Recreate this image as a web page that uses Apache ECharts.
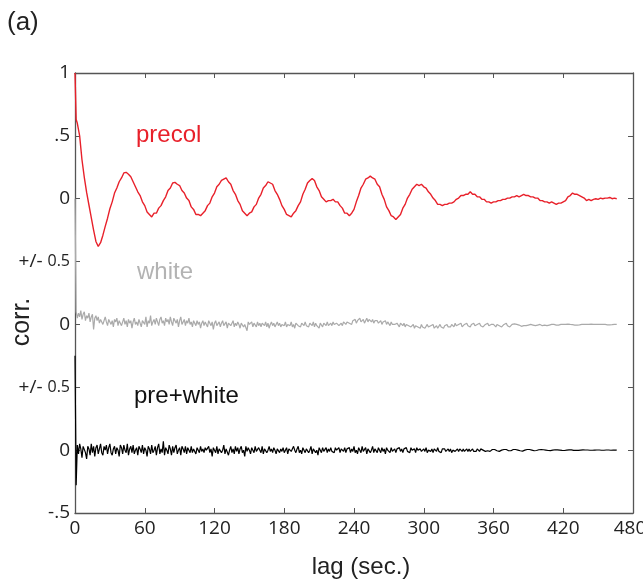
<!DOCTYPE html>
<html>
<head>
<meta charset="utf-8">
<script src="https://cdn.jsdelivr.net/npm/echarts@6/dist/echarts.min.js"></script>
<style>html,body{margin:0;padding:0;background:#fff}#c{width:643px;height:586px}</style>
</head>
<body>
<div id="c"></div>
<script>
// sample lags (sec.) for the smooth "precol" trace
const lagsPrecol = [0,1,2,4,6,8,10,12,14,16,18,20,22,24,26,28,30,32,34,36,38,40,42,44,46,48,50,52,54,56,58,60,62,64,66,68,70,72,74,76,78,80,82,84,86,88,90,92,94,96,98,100,102,104,106,108,110,112,114,116,118,120,122,124,126,128,130,132,134,136,138,140,142,144,146,148,150,152,154,156,158,160,162,164,166,168,170,172,174,176,178,180,182,184,186,188,190,192,194,196,198,200,202,204,206,208,210,212,214,216,218,220,222,224,226,228,230,232,234,236,238,240,242,244,246,248,250,252,254,256,258,260,262,264,266,268,270,272,274,276,278,280,282,284,286,288,290,292,294,296,298,300,302,304,306,308,310,312,314,316,318,320,322,324,326,328,330,332,334,336,338,340,342,344,346,348,350,352,354,356,358,360,362,364,366,368,370,372,374,376,378,380,382,384,386,388,390,392,394,396,398,400,402,404,406,408,410,412,414,416,418,420,422,424,426,428,430,432,434,436,438,440,442,444,446,448,450,452,454,456,458,460,462,464,466];

// sample lags (sec.) for the noisy "white" and "pre+white" traces
const lagsNoise = [0,1,2,3,4,5,6,7,8,9,10,11,12,13,14,15,16,17,18,19,20,21,22,23,24,25,26,27,28,29,30,31,32,33,34,35,36,37,38,39,40,41,42,43,44,45,46,47,48,49,50,51,52,53,54,55,56,57,58,59,60,61,62,63,64,65,66,67,68,69,70,71,72,73,74,75,76,77,78,79,80,81,82,83,84,85,86,87,88,89,90,91,92,93,94,95,96,97,98,99,100,101,102,103,104,105,106,107,108,109,110,111,112,113,114,115,116,117,118,119,120,121,122,123,124,125,126,127,128,129,130,131,132,133,134,135,136,137,138,139,140,141,142,143,144,145,146,147,148,149,150,151,152,153,154,155,156,157,158,159,160,161,162,163,164,165,166,167,168,169,170,171,172,173,174,175,176,177,178,179,180,181,182,183,184,185,186,187,188,189,190,191,192,193,194,195,196,197,198,199,200,201,202,203,204,205,206,207,208,209,210,211,212,213,214,215,216,217,218,219,220,221,222,223,224,225,226,227,228,229,230,231,232,233,234,235,236,237,238,239,240,241,242,243,244,245,246,247,248,249,250,251,252,253,254,255,256,257,258,259,260,261,262,263,264,265,266,267,268,269,270,271,272,273,274,275,276,277,278,279,280,281,282,283,284,285,286,287,288,289,290,291,292,293,294,295,296,297,298,299,300,301,302,303,304,305,306,307,308,309,310,311,312,313,314,315,316,317,318,319,320,321,322,323,324,325,326,327,328,329,330,331,332,333,334,335,336,337,338,339,340,341,342,343,344,345,346,347,348,349,350,351,352,353,354,355,356,357,358,359,360,361,362,363,364,365,366,367,368,369,370,371,372,373,374,375,376,377,378,379,380,381,382,383,384,385,386,387,388,389,390,391,392,393,394,395,396,397,398,399,400,401,402,403,404,405,406,407,408,409,410,411,412,413,414,415,416,417,418,419,420,421,422,423,424,425,426,427,428,429,430,431,432,433,434,435,436,437,438,439,440,441,442,443,444,445,446,447,448,449,450,451,452,453,454,455,456,457,458,459,460,461,462,463,464,465,466];

const precol = [1.0,0.63,0.60,
0.50,0.31,0.17,0.05,-0.05,-0.15,-0.25,-0.34,-0.38,-0.35,
-0.29,-0.22,-0.155,-0.08,-0.025,0.045,0.085,0.135,0.165,0.205,
0.21,0.195,0.175,0.135,0.095,0.055,0.025,-0.025,-0.055,-0.105,
-0.125,-0.145,-0.115,-0.115,-0.075,-0.055,-0.015,0.015,0.065,0.085,
0.125,0.13,0.115,0.105,0.065,0.045,0.005,-0.015,-0.065,-0.085,
-0.125,-0.125,-0.135,-0.115,-0.095,-0.055,-0.035,0.015,0.045,0.095,
0.115,0.145,0.155,0.165,0.135,0.115,0.065,0.035,-0.015,-0.045,
-0.095,-0.115,-0.135,-0.115,-0.105,-0.065,-0.045,0.005,0.035,0.085,
0.105,0.135,0.125,0.115,0.065,0.035,-0.005,-0.055,-0.085,-0.125,
-0.135,-0.145,-0.115,-0.095,-0.055,-0.025,0.035,0.075,0.125,0.145,
0.16,0.145,0.095,0.065,0.015,-0.005,-0.025,-0.015,-0.015,-0.005,
-0.025,-0.025,-0.055,-0.075,-0.115,-0.115,-0.135,-0.115,-0.085,-0.025,
0.025,0.085,0.115,0.155,0.165,0.18,0.165,0.155,0.115,0.095,
0.035,-0.005,-0.065,-0.095,-0.135,-0.145,-0.165,-0.145,-0.125,-0.075,
-0.045,0.005,0.035,0.075,0.095,0.115,0.105,0.115,0.095,0.085,
0.055,0.035,0.005,-0.015,-0.045,-0.045,-0.055,-0.045,-0.045,-0.035,
-0.035,-0.025,-0.005,0.005,0.025,0.025,0.035,0.035,0.055,0.035,
0.035,0.015,0.015,-0.005,-0.005,-0.025,-0.025,-0.035,-0.025,-0.025,
-0.015,-0.015,-0.005,-0.005,0.005,0.005,0.015,0.015,0.025,0.015,
0.025,0.035,0.025,0.025,0.015,0.015,0.005,0.005,-0.015,-0.015,
-0.025,-0.025,-0.035,-0.025,-0.035,-0.045,-0.035,-0.035,-0.025,-0.015,
0.015,0.025,0.045,0.035,0.035,0.025,0.015,0.005,-0.015,-0.005,
-0.015,-0.005,0.00,-0.005,0.005,0.00,0.005,0.005,0.01,0.00,
0.005,0.00];

const white = [
1,.1,.05,.09,.06,.11,.04,.08,.1,.03,.07,.05,.09,.02,.06,.08,-.04,.05,.07,.03,
.06,.01,.04,.05,.00,.03,.06,.02,-.01,.04,.05,.00,.03,-.02,.04,.02,.05,-.01,.03,.04,
-.01,.02,.05,.00,.03,-.02,.04,.01,.03,-.03,.02,.05,.00,.02,-.01,.04,.01,-.02,.03,.02,
.00,.06,-.02,.03,.01,.07,-.01,.02,.04,.00,.05,.02,-.01,.04,.06,.01,.03,-.01,.05,.02,
.04,.00,.06,.02,-.01,.05,.03,.01,.04,-.02,.03,.06,.00,.02,.04,-.01,.03,.01,.05,.00,
.02,-.02,.03,.01,-.01,.03,.00,.02,-.03,.01,.03,-.01,.02,.00,-.02,.03,.01,-.01,.02,-.04,
.01,.03,-.01,.00,.02,-.02,.01,.03,-.01,.00,.02,-.03,.01,.02,-.01,.00,.03,-.02,.01,-.01,
.02,.00,-.03,.01,.02,-.02,.00,.01,-.05,.02,.00,-.01,.02,-.02,.01,.00,-.02,.02,-.01,.01,
-.02,.01,.00,-.01,.02,-.02,.01,-.03,.00,.02,-.01,.01,-.02,.00,.02,-.01,.01,-.02,.00,.01,
-.01,.02,-.02,.00,.01,-.01,.02,-.02,.00,-.03,.01,.02,-.01,.00,-.02,.01,.00,-.01,.02,-.01,
.00,-.02,.01,.00,-.01,.02,-.02,.01,-.01,.00,-.03,.01,.00,-.02,.01,.00,-.01,.02,-.01,.00,
.01,-.01,.02,.00,-.01,.01,.02,-.01,.00,.01,-.01,.02,.01,.00,.02,.03,.01,.02,.00,.03,
.02,.04,.01,.03,.02,.05,.02,.03,.04,.01,.03,.05,.02,.04,.03,.02,.04,.01,.03,.02,
.03,.01,.02,.03,.00,.02,.01,.03,.00,.02,.01,-.01,.02,.00,.01,.00,-.01,.01,.00,-.02,
.01,.00,-.01,.01,-.02,.00,.01,-.01,.00,-.02,-.01,.00,-.03,-.01,.00,-.02,-.01,-.03,.00,-.02,
-.01,-.03,-.02,.00,-.02,-.03,-.01,-.02,.00,-.03,-.02,-.01,-.03,-.02,.00,-.02,-.01,-.03,-.01,-.02,
.00,-.02,-.01,-.02,.00,-.01,-.02,.01,-.01,-.02,.00,-.01,.01,-.02,-.01,.00,-.01,.01,-.01,.00,
-.02,.00,-.01,.01,-.01,-.02,.00,-.01,.01,-.01,.00,-.02,-.01,.00,-.01,.01,-.01,-.02,.00,-.01,
.00,-.01,-.02,.00,.01,-.01,.00,-.02,-.01,.00,-.01,.01,-.01,.00,-.02,-.01,.00,-.01,.005,-.01,
.00,-.01,-.005,.00,-.015,.00,-.01,.005,-.01,.00,-.005,-.01,.00,-.015,-.005,.00,-.01,.00,-.005,-.01,
.00,-.005,-.01,.00,-.005,.005,-.01,.00,-.005,-.01,.00,-.005,.00,-.01,-.005,.00,-.005,-.01,.00,-.005,
.00,-.008,.00,-.005,.003,-.005,.00,-.008,-.002,.00,-.005,.002,-.006,.00,-.004,-.002,.00,-.006,.00,-.004,
.00,-.005,.00,-.003,.002,-.005,.00,-.004,.00,-.003,.001,-.004,.00,-.003,.00,-.004,.00,-.002,-.003,.00,
-.003,.00,-.002,-.003,.00,-.002,.00];

const preWhite = [
.75,-.28,.04,-.03,.05,.01,-.06,.03,.04,-.02,-.07,.03,.01,-.04,.05,-.02,.03,-.05,.02,.04,
-.03,.01,.05,-.02,-.04,.03,.00,.04,-.03,.02,.05,-.02,-.04,.01,.03,-.03,.02,.00,-.05,.04,
.02,-.03,.04,.00,-.02,.05,-.04,.01,.03,-.02,.04,-.03,.00,.02,-.04,.03,.01,-.02,.04,-.03,
.02,.00,-.05,.03,.01,-.03,.04,-.02,.00,.03,-.04,.02,.05,-.03,.01,-.02,.07,-.04,.02,.00,
-.03,.04,.01,-.04,.03,-.02,.02,.04,-.03,.00,.02,-.04,.03,.01,-.02,.03,-.03,.02,.00,-.02,
.03,-.02,.01,.02,-.03,.02,.00,-.02,.03,-.01,.01,-.02,.02,.00,-.01,.03,-.02,.01,-.05,.02,
.00,-.02,.03,-.03,.01,.02,-.02,.00,.04,-.03,.01,.02,-.04,.00,.03,-.02,.01,-.03,.03,-.01,
.02,-.03,.01,.03,-.02,.00,-.05,.03,-.01,.02,.00,-.03,.02,.01,-.02,.03,-.01,-.02,.02,.00,
-.02,.03,-.03,.01,.02,-.02,.00,.03,-.01,.01,-.02,.02,.00,-.03,.01,.02,-.02,.01,-.01,.02,
-.02,.00,.02,-.03,.01,.02,-.01,-.02,.03,.00,-.02,.01,.03,-.02,.00,-.03,.02,.01,-.02,.01,
.02,-.02,.00,.03,-.03,.01,.02,-.02,.00,-.04,.02,.01,-.02,.02,-.01,.00,.02,-.02,.01,-.01,
.02,-.01,.00,-.02,.02,.00,-.01,.02,-.02,.01,.00,-.01,.02,-.02,.01,.00,.02,-.02,.01,-.01,
.03,-.02,.00,-.03,.02,.01,-.02,.03,-.01,.00,.02,-.03,.01,.02,-.02,.00,.03,-.02,.01,.00,
-.02,.02,.00,-.02,.02,-.01,.01,-.03,.02,.00,.01,-.02,.02,-.01,.00,.01,-.02,.01,.00,.02,
-.01,.01,-.02,.01,.00,.02,-.01,.00,-.02,.02,.00,-.01,.01,-.02,.02,.00,-.01,.01,-.01,.00,
.01,-.01,.02,-.02,.00,.01,-.01,.01,-.02,.01,.00,-.01,.02,-.01,.00,-.02,.01,.00,.01,-.01,
.00,.01,-.01,.01,-.02,.00,.01,-.01,.00,.01,-.01,.01,.00,-.01,.01,-.01,.00,.01,-.01,.01,
-.01,.00,.01,-.01,.005,-.01,.01,.00,-.01,.01,-.005,.00,.01,-.01,.005,-.005,.01,-.01,.00,.005,
-.01,.005,.00,-.005,.01,-.01,.005,.00,-.005,.005,-.01,.005,.00,-.005,.01,-.005,.00,.005,-.005,.005,
-.005,.00,.005,-.005,.005,-.008,.003,.00,-.005,.005,-.003,.005,-.005,.00,.003,-.005,.005,-.003,.00,.003,
-.004,.004,-.002,.003,-.004,.00,.004,-.003,.002,-.004,.003,.00,-.003,.003,-.002,.002,-.003,.00,.003,-.002,
.002,-.003,.003,.00,-.002,.002,-.003,.002,.00,-.002,.003,-.002,.001,-.002,.002,.00,-.002,.002,-.001,.001,
-.002,.001,.00,-.001,.002,-.001,.001,.00,-.001,.001,-.001,.001,.00,-.001,.001,-.001,.00,.001,-.001,.001,
.00,-.001,.001,.00,-.001,.001,.00];

const seriesNames = ['precol', 'white', 'pre+white'];
const seriesOffsets = [0, -1, -2];
const seriesColors = ['#e8202a', '#aaaaaa', '#000000'];
const lineWidths = [1.4, 1.2, 1.2];
const xTicks = [0, 60, 120, 180, 240, 300, 360, 420, 480];
const yTickValues = [1, 0.5, 0, -0.5, -1, -1.5, -2, -2.5];
const yTickLabels = ['1', '.5', '0', '{a|+/-} {b|0.5}', '0', '{a|+/-} {b|0.5}', '0', '-.5'];

const allSeries = [precol, white, preWhite];
const allLags = [lagsPrecol, lagsNoise, lagsNoise];
const TICKFONT = '"Liberation Sans Narrow", "Open Sans", sans-serif';
const PMFONT = '"Open Sans", "Noto Sans", sans-serif';
const FONT = '"Liberation Sans", Arial, sans-serif';
const AXC = '#555';

function yLabel(v) {
  for (let i = 0; i < yTickValues.length; i++) {
    if (Math.abs(yTickValues[i] - v) < 1e-6) return yTickLabels[i];
  }
  return '';
}
function xLabel(v) {
  return v === xTicks[xTicks.length - 1] ? '{last|' + v + '}' : String(v);
}

const chart = echarts.init(document.getElementById('c'), null, {renderer: 'canvas'});
chart.setOption({
  animation: false,
  backgroundColor: '#fff',
  grid: {left: 75, right: 10, top: 73, bottom: 73, containLabel: false, outerBoundsMode: 'none'},
  xAxis: [{
    type: 'value', min: xTicks[0], max: xTicks[xTicks.length - 1], interval: 60, position: 'bottom',
    name: 'lag (sec.)', nameLocation: 'middle', nameGap: 42, nameMoveOverlap: false,
    nameTextStyle: {fontFamily: FONT, fontSize: 24, color: '#222', padding: [0, 0, 0, 14]},
    axisLine: {show: true, onZero: false, lineStyle: {color: AXC, width: 1.3}},
    axisTick: {show: true, inside: true, length: 5, lineStyle: {color: AXC}},
    axisLabel: {
      fontFamily: TICKFONT, fontSize: 19, color: '#222', margin: 6, formatter: xLabel,
      rich: {last: {fontFamily: TICKFONT, fontSize: 19, color: '#222', padding: [0, 6, 0, 0]}}
    },
    splitLine: {show: false}
  }, {
    type: 'value', min: xTicks[0], max: xTicks[xTicks.length - 1], interval: 60, position: 'top',
    axisLine: {show: true, onZero: false, lineStyle: {color: AXC, width: 1.3}},
    axisTick: {show: true, inside: true, length: 5, lineStyle: {color: AXC}},
    axisLabel: {show: false}, splitLine: {show: false}
  }],
  yAxis: [{
    type: 'value', min: -2.5, max: 1, interval: 0.5, position: 'left',
    name: 'corr.', nameLocation: 'middle', nameGap: 40, nameRotate: 90, nameMoveOverlap: false,
    nameTextStyle: {fontFamily: FONT, fontSize: 25, color: '#222', padding: [0, 58, 0, 0]},
    axisLine: {show: true, onZero: false, lineStyle: {color: AXC, width: 1.3}},
    axisTick: {show: true, inside: true, length: 5, lineStyle: {color: AXC}},
    axisLabel: {
      fontFamily: TICKFONT, fontSize: 19, color: '#222', margin: 5, formatter: yLabel,
      rich: {
        a: {fontFamily: PMFONT, fontSize: 19, color: '#222'},
        b: {fontFamily: PMFONT, fontSize: 16, color: '#222'}
      }
    },
    splitLine: {show: false}
  }, {
    type: 'value', min: -2.5, max: 1, interval: 0.5, position: 'right',
    axisLine: {show: true, onZero: false, lineStyle: {color: AXC, width: 1.3}},
    axisTick: {show: true, inside: true, length: 5, lineStyle: {color: AXC}},
    axisLabel: {show: false}, splitLine: {show: false}
  }],
  series: allSeries.map((vals, k) => ({
    name: seriesNames[k],
    type: 'line',
    xAxisIndex: 0, yAxisIndex: 0,
    showSymbol: false,
    silent: true,
    z: 3 - k,
    lineStyle: {color: seriesColors[k], width: lineWidths[k]},
    data: vals.map((v, i) => [allLags[k][i], v + seriesOffsets[k]])
  })),
  graphic: [
    {type: 'text', left: 7, top: 10, style: {text: '(a)', fontFamily: FONT, fontSize: 26, fill: '#222'}},
    {type: 'text', left: 136, top: 123, style: {text: seriesNames[0], fontFamily: FONT, fontSize: 24, fill: seriesColors[0]}},
    {type: 'text', left: 137, top: 260, style: {text: seriesNames[1], fontFamily: FONT, fontSize: 24, fill: '#b3b3b3'}},
    {type: 'text', left: 134, top: 384, style: {text: seriesNames[2], fontFamily: FONT, fontSize: 24, fill: '#111'}}
  ]
});
</script>
</body>
</html>
